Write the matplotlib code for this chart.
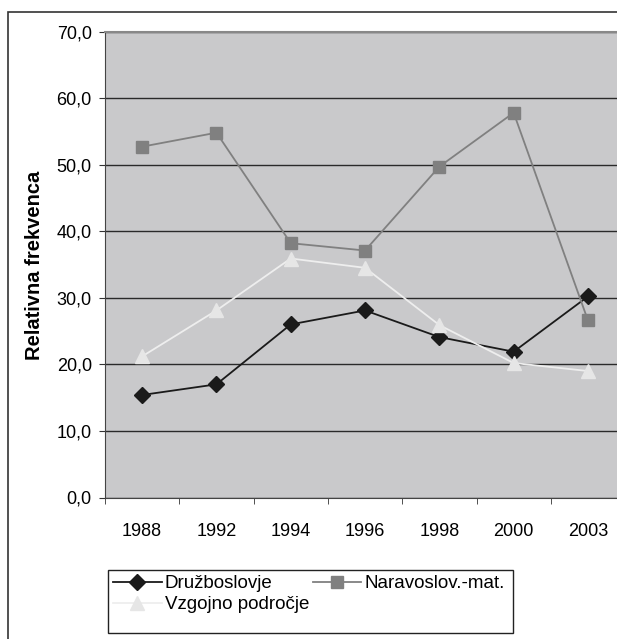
import matplotlib
matplotlib.use("Agg")
import matplotlib.pyplot as plt
from matplotlib.patches import Rectangle

plt.rcParams.update({"font.family": ["Liberation Sans", "DejaVu Sans"], "font.size": 13})

years = ["1988", "1992", "1994", "1996", "1998", "2000", "2003"]
druzboslovje = [15.4, 17.0, 26.0, 28.1, 24.1, 21.9, 30.2]
naravoslov = [52.7, 54.8, 38.2, 37.1, 49.7, 57.8, 26.6]
vzgojno = [21.2, 28.1, 35.9, 34.5, 25.9, 20.2, 19.0]
yticks = [0, 10, 20, 30, 40, 50, 60, 70]

W, H = 617, 639
fig = plt.figure(figsize=(W / 100, H / 100), dpi=100)
# plot area: left 105px, top 31.5px, bottom 497.5px, category width ~74.3px (runs past right edge)
ax = fig.add_axes([105 / W, 1 - 497.5 / H, 7 * 74.3 / W, (497.5 - 31.5) / H])
ax.set_facecolor("#c9c9cb")

x = range(len(years))
l1, = ax.plot(x, druzboslovje, color="#1a1a1a", lw=1.3, marker="D", ms=8, label="Družboslovje")
l2, = ax.plot(x, naravoslov, color="#808080", lw=1.3, marker="s", ms=9, label="Naravoslov.-mat.")
l3, = ax.plot(x, vzgojno, color="#eeeeee", lw=1.3, marker="^", ms=10,
              markerfacecolor="#e6e6e6", markeredgecolor="#e6e6e6", label="Vzgojno področje")

ax.set_xlim(-0.5, len(years) - 0.5)
ax.set_ylim(0, 70)
ax.set_yticks(yticks)
ax.set_yticklabels([f"{v:.1f}".replace(".", ",") for v in yticks])
ax.yaxis.grid(True, color="#2a2a2a", lw=1)
ax.set_axisbelow(True)
ax.set_xticks(list(x))
ax.set_xticklabels(years)
ax.set_xticks([i + 0.5 for i in range(-1, len(years))], minor=True)
ax.tick_params(axis="x", which="major", length=0, pad=18)
ax.tick_params(axis="x", which="minor", length=4.5, color="#333333", direction="out")
ax.tick_params(axis="y", length=4, color="#333333", pad=5.5)
for s in ["left", "bottom"]:
    ax.spines[s].set_color("#444444")
for s in ["top", "right"]:
    ax.spines[s].set_color("#888888")
    ax.spines[s].set_linewidth(1.5)

fig.text(35 / W, 1 - 265 / H, "Relativna frekvenca", rotation=90, fontweight="bold",
         ha="center", va="center", fontsize=14.5)

# legend entries without frame; Excel-style box drawn separately
leg = fig.legend([l1, l3, l2], [l1.get_label(), l3.get_label(), l2.get_label()],
                 ncol=2, loc="upper left", bbox_to_anchor=(113 / W, 1 - 575 / H),
                 frameon=False, fontsize=13.5,
                 handlelength=2.6, handletextpad=0.15, columnspacing=0.2,
                 borderpad=0.0, labelspacing=0.22, borderaxespad=0)
fig.patches.append(Rectangle((108 / W, 1 - 633 / H), (513 - 108) / W, 63 / H,
                             transform=fig.transFigure, fill=False, edgecolor="#222222", lw=1))

# outer chart border, right and bottom edges fall outside the image
fig.patches.append(Rectangle((8 / W, -0.1), 1.2, 1 - 12 / H + 0.1, transform=fig.transFigure,
                             fill=False, edgecolor="#333333", lw=1.2))

fig.savefig("out.png", dpi=100)
